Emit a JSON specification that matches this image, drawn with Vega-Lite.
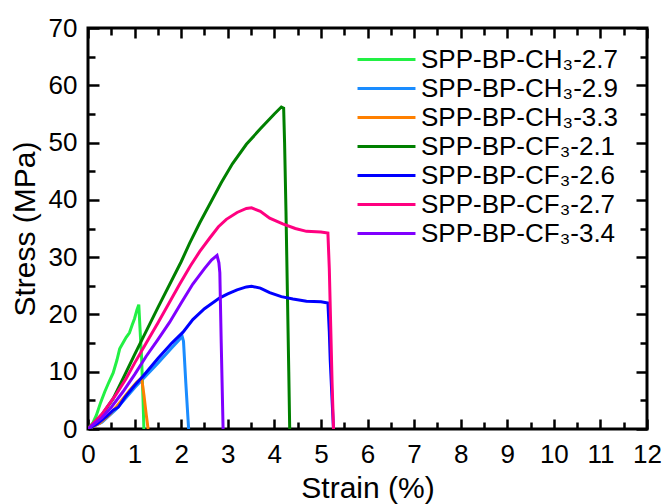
{
  "$schema": "https://vega.github.io/schema/vega-lite/v6.json",
  "width": 559,
  "height": 401,
  "autosize": "none",
  "padding": {"left": 88, "top": 28, "right": 16, "bottom": 75},
  "background": "white",
  "config": {
    "font": "Liberation Sans",
    "view": {"stroke": "black", "strokeWidth": 3},
    "axis": {"grid": false, "domain": false, "tickColor": "black", "tickWidth": 2.5, "labelColor": "black", "titleColor": "black", "labelFont": "Liberation Sans", "titleFont": "Liberation Sans", "labelFontSize": 26, "titleFontSize": 30, "titleFontWeight": "normal", "labelOverlap": false}
  },
  "data": {"values": [
    {"s":"SPP-BP-CH₃-2.7","o":0,"x":0,"y":0},{"s":"SPP-BP-CH₃-2.7","o":1,"x":0.1,"y":1.0},{"s":"SPP-BP-CH₃-2.7","o":2,"x":0.18,"y":2.4},{"s":"SPP-BP-CH₃-2.7","o":3,"x":0.27,"y":4.6},{"s":"SPP-BP-CH₃-2.7","o":4,"x":0.36,"y":6.5},{"s":"SPP-BP-CH₃-2.7","o":5,"x":0.45,"y":8.2},{"s":"SPP-BP-CH₃-2.7","o":6,"x":0.54,"y":9.8},{"s":"SPP-BP-CH₃-2.7","o":7,"x":0.62,"y":12.0},{"s":"SPP-BP-CH₃-2.7","o":8,"x":0.68,"y":14.0},{"s":"SPP-BP-CH₃-2.7","o":9,"x":0.75,"y":15.0},{"s":"SPP-BP-CH₃-2.7","o":10,"x":0.82,"y":16.0},{"s":"SPP-BP-CH₃-2.7","o":11,"x":0.89,"y":16.8},{"s":"SPP-BP-CH₃-2.7","o":12,"x":0.95,"y":18.2},{"s":"SPP-BP-CH₃-2.7","o":13,"x":1.0,"y":19.3},{"s":"SPP-BP-CH₃-2.7","o":14,"x":1.05,"y":20.8},{"s":"SPP-BP-CH₃-2.7","o":15,"x":1.09,"y":21.7},{"s":"SPP-BP-CH₃-2.7","o":16,"x":1.12,"y":17.0},{"s":"SPP-BP-CH₃-2.7","o":17,"x":1.15,"y":12.5},{"s":"SPP-BP-CH₃-2.7","o":18,"x":1.18,"y":5.5},{"s":"SPP-BP-CH₃-2.7","o":19,"x":1.2,"y":0},
    {"s":"SPP-BP-CH₃-2.9","o":0,"x":0,"y":0},{"s":"SPP-BP-CH₃-2.9","o":1,"x":0.3,"y":1.2},{"s":"SPP-BP-CH₃-2.9","o":2,"x":0.6,"y":3.4},{"s":"SPP-BP-CH₃-2.9","o":3,"x":1.0,"y":7.2},{"s":"SPP-BP-CH₃-2.9","o":4,"x":1.5,"y":11.5},{"s":"SPP-BP-CH₃-2.9","o":5,"x":1.8,"y":14.2},{"s":"SPP-BP-CH₃-2.9","o":6,"x":1.95,"y":15.5},{"s":"SPP-BP-CH₃-2.9","o":7,"x":2.02,"y":16.2},{"s":"SPP-BP-CH₃-2.9","o":8,"x":2.05,"y":15.3},{"s":"SPP-BP-CH₃-2.9","o":9,"x":2.1,"y":8.0},{"s":"SPP-BP-CH₃-2.9","o":10,"x":2.16,"y":0},
    {"s":"SPP-BP-CH₃-3.3","o":0,"x":0,"y":0},{"s":"SPP-BP-CH₃-3.3","o":1,"x":0.25,"y":1.0},{"s":"SPP-BP-CH₃-3.3","o":2,"x":0.45,"y":2.4},{"s":"SPP-BP-CH₃-3.3","o":3,"x":0.61,"y":3.9},{"s":"SPP-BP-CH₃-3.3","o":4,"x":0.75,"y":5.3},{"s":"SPP-BP-CH₃-3.3","o":5,"x":0.9,"y":6.8},{"s":"SPP-BP-CH₃-3.3","o":6,"x":1.05,"y":8.2},{"s":"SPP-BP-CH₃-3.3","o":7,"x":1.15,"y":8.9},{"s":"SPP-BP-CH₃-3.3","o":8,"x":1.2,"y":6.0},{"s":"SPP-BP-CH₃-3.3","o":9,"x":1.25,"y":2.5},{"s":"SPP-BP-CH₃-3.3","o":10,"x":1.29,"y":0},
    {"s":"SPP-BP-CF₃-2.1","o":0,"x":0,"y":0},{"s":"SPP-BP-CF₃-2.1","o":1,"x":0.3,"y":2.5},{"s":"SPP-BP-CF₃-2.1","o":2,"x":0.54,"y":5.3},{"s":"SPP-BP-CF₃-2.1","o":3,"x":0.8,"y":9.6},{"s":"SPP-BP-CF₃-2.1","o":4,"x":1.0,"y":13.0},{"s":"SPP-BP-CF₃-2.1","o":5,"x":1.5,"y":21.2},{"s":"SPP-BP-CF₃-2.1","o":6,"x":2.0,"y":29.2},{"s":"SPP-BP-CF₃-2.1","o":7,"x":2.18,"y":32.4},{"s":"SPP-BP-CF₃-2.1","o":8,"x":2.4,"y":36.0},{"s":"SPP-BP-CF₃-2.1","o":9,"x":2.86,"y":43.0},{"s":"SPP-BP-CF₃-2.1","o":10,"x":3.1,"y":46.3},{"s":"SPP-BP-CF₃-2.1","o":11,"x":3.4,"y":49.7},{"s":"SPP-BP-CF₃-2.1","o":12,"x":3.7,"y":52.4},{"s":"SPP-BP-CF₃-2.1","o":13,"x":4.0,"y":55.0},{"s":"SPP-BP-CF₃-2.1","o":14,"x":4.15,"y":56.2},{"s":"SPP-BP-CF₃-2.1","o":15,"x":4.2,"y":56.0},{"s":"SPP-BP-CF₃-2.1","o":16,"x":4.22,"y":50.0},{"s":"SPP-BP-CF₃-2.1","o":17,"x":4.25,"y":38.0},{"s":"SPP-BP-CF₃-2.1","o":18,"x":4.28,"y":24.0},{"s":"SPP-BP-CF₃-2.1","o":19,"x":4.31,"y":10.0},{"s":"SPP-BP-CF₃-2.1","o":20,"x":4.33,"y":0},
    {"s":"SPP-BP-CF₃-2.6","o":0,"x":0,"y":0},{"s":"SPP-BP-CF₃-2.6","o":1,"x":0.2,"y":0.9},{"s":"SPP-BP-CF₃-2.6","o":2,"x":0.4,"y":2.2},{"s":"SPP-BP-CF₃-2.6","o":3,"x":0.54,"y":3.3},{"s":"SPP-BP-CF₃-2.6","o":4,"x":0.65,"y":3.8},{"s":"SPP-BP-CF₃-2.6","o":5,"x":0.8,"y":5.6},{"s":"SPP-BP-CF₃-2.6","o":6,"x":1.0,"y":7.6},{"s":"SPP-BP-CF₃-2.6","o":7,"x":1.18,"y":9.2},{"s":"SPP-BP-CF₃-2.6","o":8,"x":1.5,"y":12.3},{"s":"SPP-BP-CF₃-2.6","o":9,"x":1.8,"y":15.0},{"s":"SPP-BP-CF₃-2.6","o":10,"x":2.04,"y":16.9},{"s":"SPP-BP-CF₃-2.6","o":11,"x":2.25,"y":19.1},{"s":"SPP-BP-CF₃-2.6","o":12,"x":2.5,"y":21.0},{"s":"SPP-BP-CF₃-2.6","o":13,"x":2.83,"y":22.9},{"s":"SPP-BP-CF₃-2.6","o":14,"x":3.0,"y":23.6},{"s":"SPP-BP-CF₃-2.6","o":15,"x":3.2,"y":24.3},{"s":"SPP-BP-CF₃-2.6","o":16,"x":3.4,"y":24.8},{"s":"SPP-BP-CF₃-2.6","o":17,"x":3.51,"y":24.9},{"s":"SPP-BP-CF₃-2.6","o":18,"x":3.7,"y":24.6},{"s":"SPP-BP-CF₃-2.6","o":19,"x":3.9,"y":23.8},{"s":"SPP-BP-CF₃-2.6","o":20,"x":4.15,"y":23.1},{"s":"SPP-BP-CF₃-2.6","o":21,"x":4.4,"y":22.7},{"s":"SPP-BP-CF₃-2.6","o":22,"x":4.69,"y":22.3},{"s":"SPP-BP-CF₃-2.6","o":23,"x":5.0,"y":22.2},{"s":"SPP-BP-CF₃-2.6","o":24,"x":5.15,"y":22.0},{"s":"SPP-BP-CF₃-2.6","o":25,"x":5.18,"y":17.0},{"s":"SPP-BP-CF₃-2.6","o":26,"x":5.2,"y":12.0},{"s":"SPP-BP-CF₃-2.6","o":27,"x":5.24,"y":5.0},{"s":"SPP-BP-CF₃-2.6","o":28,"x":5.27,"y":0},
    {"s":"SPP-BP-CF₃-2.7","o":0,"x":0,"y":0},{"s":"SPP-BP-CF₃-2.7","o":1,"x":0.3,"y":2.6},{"s":"SPP-BP-CF₃-2.7","o":2,"x":0.6,"y":6.0},{"s":"SPP-BP-CF₃-2.7","o":3,"x":0.82,"y":8.8},{"s":"SPP-BP-CF₃-2.7","o":4,"x":1.0,"y":11.5},{"s":"SPP-BP-CF₃-2.7","o":5,"x":1.25,"y":15.0},{"s":"SPP-BP-CF₃-2.7","o":6,"x":1.5,"y":18.5},{"s":"SPP-BP-CF₃-2.7","o":7,"x":1.97,"y":25.3},{"s":"SPP-BP-CF₃-2.7","o":8,"x":2.2,"y":28.5},{"s":"SPP-BP-CF₃-2.7","o":9,"x":2.4,"y":31.0},{"s":"SPP-BP-CF₃-2.7","o":10,"x":2.61,"y":33.3},{"s":"SPP-BP-CF₃-2.7","o":11,"x":2.8,"y":35.3},{"s":"SPP-BP-CF₃-2.7","o":12,"x":2.97,"y":36.6},{"s":"SPP-BP-CF₃-2.7","o":13,"x":3.2,"y":37.8},{"s":"SPP-BP-CF₃-2.7","o":14,"x":3.4,"y":38.5},{"s":"SPP-BP-CF₃-2.7","o":15,"x":3.51,"y":38.6},{"s":"SPP-BP-CF₃-2.7","o":16,"x":3.7,"y":38.0},{"s":"SPP-BP-CF₃-2.7","o":17,"x":3.9,"y":36.8},{"s":"SPP-BP-CF₃-2.7","o":18,"x":4.18,"y":35.8},{"s":"SPP-BP-CF₃-2.7","o":19,"x":4.45,"y":35.0},{"s":"SPP-BP-CF₃-2.7","o":20,"x":4.69,"y":34.5},{"s":"SPP-BP-CF₃-2.7","o":21,"x":5.0,"y":34.4},{"s":"SPP-BP-CF₃-2.7","o":22,"x":5.15,"y":34.2},{"s":"SPP-BP-CF₃-2.7","o":23,"x":5.18,"y":28.0},{"s":"SPP-BP-CF₃-2.7","o":24,"x":5.21,"y":18.0},{"s":"SPP-BP-CF₃-2.7","o":25,"x":5.24,"y":8.0},{"s":"SPP-BP-CF₃-2.7","o":26,"x":5.27,"y":0},
    {"s":"SPP-BP-CF₃-3.4","o":0,"x":0,"y":0},{"s":"SPP-BP-CF₃-3.4","o":1,"x":0.3,"y":2.0},{"s":"SPP-BP-CF₃-3.4","o":2,"x":0.5,"y":3.8},{"s":"SPP-BP-CF₃-3.4","o":3,"x":0.75,"y":6.5},{"s":"SPP-BP-CF₃-3.4","o":4,"x":1.0,"y":9.5},{"s":"SPP-BP-CF₃-3.4","o":5,"x":1.25,"y":12.7},{"s":"SPP-BP-CF₃-3.4","o":6,"x":1.5,"y":15.6},{"s":"SPP-BP-CF₃-3.4","o":7,"x":1.75,"y":18.6},{"s":"SPP-BP-CF₃-3.4","o":8,"x":2.0,"y":22.0},{"s":"SPP-BP-CF₃-3.4","o":9,"x":2.25,"y":25.3},{"s":"SPP-BP-CF₃-3.4","o":10,"x":2.5,"y":28.0},{"s":"SPP-BP-CF₃-3.4","o":11,"x":2.65,"y":29.5},{"s":"SPP-BP-CF₃-3.4","o":12,"x":2.77,"y":30.3},{"s":"SPP-BP-CF₃-3.4","o":13,"x":2.81,"y":29.0},{"s":"SPP-BP-CF₃-3.4","o":14,"x":2.83,"y":27.3},{"s":"SPP-BP-CF₃-3.4","o":15,"x":2.86,"y":15.0},{"s":"SPP-BP-CF₃-3.4","o":16,"x":2.9,"y":0}
  ]},
  "resolve": {"axis": {"x": "independent", "y": "independent"}},
  "layer": [
    {
      "mark": {"type": "line", "strokeWidth": 3, "clip": true},
      "encoding": {
        "x": {"field": "x", "type": "quantitative", "scale": {"domain": [0, 12], "nice": false, "zero": false},
          "axis": {"orient": "bottom", "title": "Strain (%)", "values": [0,0.5,1,1.5,2,2.5,3,3.5,4,4.5,5,5.5,6,6.5,7,7.5,8,8.5,9,9.5,10,10.5,11,11.5,12],
            "labelExpr": "datum.value % 1 == 0 ? format(datum.value, 'd') : ''",
            "tickSize": -10,
            "tickDash": {"condition": {"test": "datum.value % 1 != 0", "value": [7, 40]}, "value": [10, 0]},
            "labelPadding": 22, "titlePadding": 6, "labelFlush": false}},
        "y": {"field": "y", "type": "quantitative", "scale": {"domain": [0, 70], "nice": false},
          "axis": {"orient": "left", "title": "Stress (MPa)", "values": [0,5,10,15,20,25,30,35,40,45,50,55,60,65,70],
            "labelExpr": "datum.value % 10 == 0 ? format(datum.value, 'd') : ''",
            "tickSize": -11,
            "tickDash": {"condition": {"test": "datum.value % 10 != 0", "value": [7, 40]}, "value": [11, 0]},
            "labelPadding": 22, "titlePadding": 8, "labelFlush": false}},
        "color": {"field": "s", "type": "nominal",
          "scale": {"domain": ["SPP-BP-CH₃-2.7","SPP-BP-CH₃-2.9","SPP-BP-CH₃-3.3","SPP-BP-CF₃-2.1","SPP-BP-CF₃-2.6","SPP-BP-CF₃-2.7","SPP-BP-CF₃-3.4"],
            "range": ["#22F044","#1A8CFF","#FF8000","#008000","#0000FF","#FF0080","#8000FF"]},
          "legend": {"title": null, "orient": "none", "legendX": 283, "legendY": 16, "padding": 0, "symbolType": "M-2.07,0H2.07", "symbolSize": 784, "symbolStrokeWidth": 3, "symbolFillColor": "transparent", "labelFontSize": 26, "labelFont": "Liberation Sans", "labelColor": "black", "labelOffset": 19, "rowPadding": 0, "labelLimit": 400}},
        "order": {"field": "o", "type": "quantitative"}
      }
    },
    {
      "mark": {"type": "line", "strokeWidth": 0},
      "encoding": {
        "x": {"field": "x", "type": "quantitative", "scale": {"domain": [0, 12], "nice": false, "zero": false},
          "axis": {"orient": "top", "title": null, "labels": true, "labelColor": "transparent", "labelFontSize": 4, "offset": -10, "values": [0,0.5,1,1.5,2,2.5,3,3.5,4,4.5,5,5.5,6,6.5,7,7.5,8,8.5,9,9.5,10,10.5,11,11.5,12],
            "tickSize": 10,
            "tickDash": {"condition": {"test": "datum.value % 1 != 0", "value": [0, 3, 7, 40]}, "value": [10, 0]}}},
        "y": {"field": "y", "type": "quantitative", "scale": {"domain": [0, 70], "nice": false},
          "axis": {"orient": "right", "title": null, "labels": true, "labelColor": "transparent", "labelFontSize": 4, "offset": -11, "values": [0,5,10,15,20,25,30,35,40,45,50,55,60,65,70],
            "tickSize": 11,
            "tickDash": {"condition": {"test": "datum.value % 10 != 0", "value": [0, 4, 7, 40]}, "value": [11, 0]}}},
        "detail": {"field": "s"},
        "order": {"field": "o", "type": "quantitative"}
      }
    }
  ]
}
